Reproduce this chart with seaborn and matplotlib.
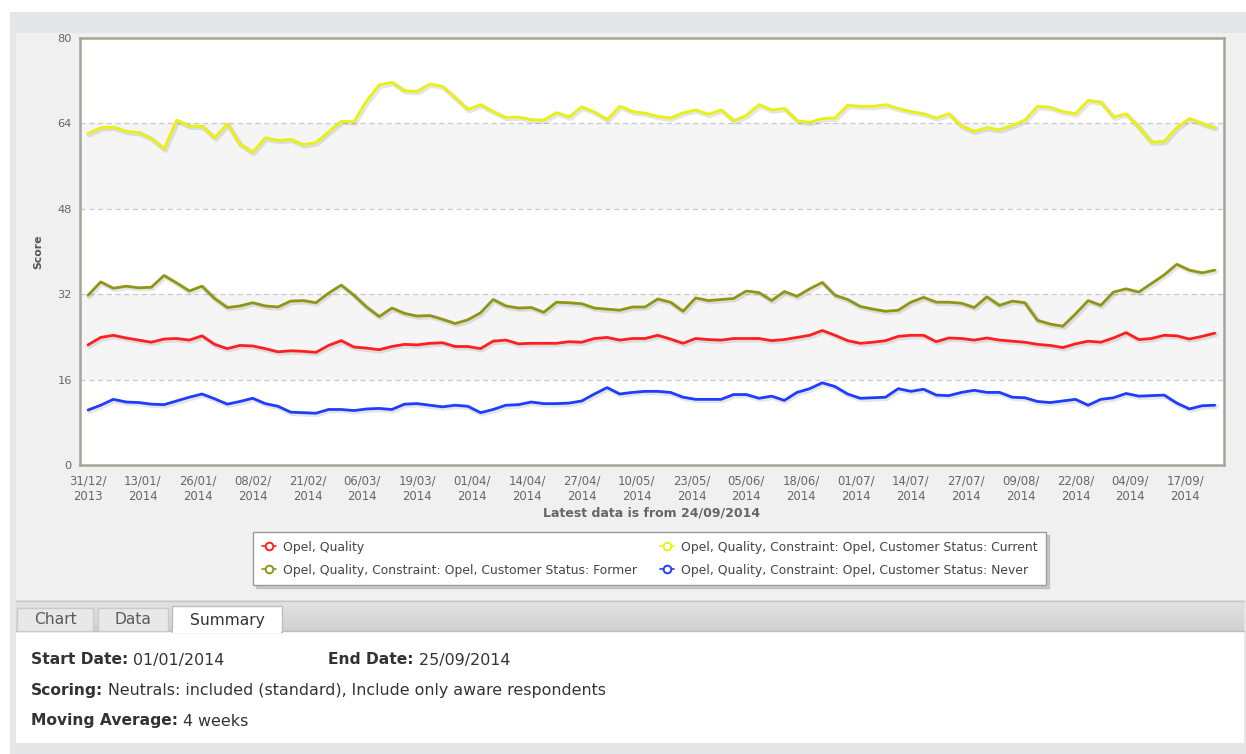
import numpy as np
import pandas as pd
import matplotlib
matplotlib.use("Agg")
import matplotlib.pyplot as plt
import matplotlib.patheffects as pe
from matplotlib.patches import Rectangle
from matplotlib.lines import Line2D
import seaborn as sns

W, H = 1246, 754

# ---------------- data ----------------
series_names = [
    "Opel, Quality",
    "Opel, Quality, Constraint: Opel, Customer Status: Current",
    "Opel, Quality, Constraint: Opel, Customer Status: Former",
    "Opel, Quality, Constraint: Opel, Customer Status: Never",
]
series_colors = ["#ff1f1f", "#e8f20c", "#8f9614", "#1f3cff"]

first_date = "2013-12-31"
step_days = 3

quality = [22.5, 23.9, 24.3, 23.8, 23.4, 23.0, 23.6, 23.7, 23.4, 24.2,
           22.6, 21.8, 22.4, 22.3, 21.8, 21.2, 21.4, 21.3, 21.1, 22.4,
           23.3, 22.1, 21.9, 21.6, 22.2, 22.6, 22.5, 22.8, 22.9, 22.2,
           22.2, 21.8, 23.2, 23.4, 22.7, 22.8, 22.8, 22.8, 23.1, 23.0,
           23.7, 23.9, 23.4, 23.7, 23.7, 24.3, 23.6, 22.8, 23.7, 23.5,
           23.4, 23.7, 23.7, 23.7, 23.3, 23.5, 23.9, 24.3, 25.2, 24.3,
           23.3, 22.8, 23.0, 23.3, 24.1, 24.3, 24.3, 23.1, 23.8, 23.7,
           23.4, 23.8, 23.4, 23.2, 23.0, 22.6, 22.4, 22.0, 22.7, 23.2,
           23.0, 23.8, 24.8, 23.5, 23.7, 24.3, 24.2, 23.6, 24.1, 24.7]

current = [62.1, 63.2, 63.3, 62.5, 62.3, 61.2, 59.2, 64.6, 63.5, 63.5,
           61.3, 63.9, 60.1, 58.6, 61.3, 60.8, 61.0, 60.0, 60.4, 62.4,
           64.4, 64.3, 68.2, 71.2, 71.7, 70.1, 70.0, 71.4, 70.9, 68.8,
           66.6, 67.5, 66.2, 65.1, 65.2, 64.7, 64.6, 66.0, 65.2, 67.1,
           66.1, 64.7, 67.2, 66.2, 65.9, 65.3, 65.0, 66.0, 66.5, 65.7,
           66.5, 64.5, 65.5, 67.5, 66.5, 66.8, 64.5, 64.2, 64.9, 65.0,
           67.4, 67.2, 67.2, 67.5, 66.8, 66.2, 65.8, 65.0, 65.8, 63.5,
           62.5, 63.2, 62.8, 63.6, 64.6, 67.2, 67.0, 66.2, 65.8, 68.3,
           68.0, 65.2, 65.8, 63.3, 60.5, 60.6, 63.2, 64.9, 64.0, 63.2]

former = [31.8, 34.3, 33.1, 33.5, 33.2, 33.3, 35.5, 34.1, 32.6, 33.5,
          31.2, 29.5, 29.8, 30.4, 29.8, 29.6, 30.7, 30.8, 30.4, 32.2,
          33.7, 31.8, 29.6, 27.8, 29.4, 28.4, 27.9, 28.0, 27.3, 26.5,
          27.2, 28.5, 31.0, 29.8, 29.4, 29.5, 28.6, 30.5, 30.4, 30.2,
          29.4, 29.2, 29.0, 29.6, 29.6, 31.1, 30.5, 28.8, 31.3, 30.8,
          31.0, 31.2, 32.6, 32.3, 30.8, 32.5, 31.6, 33.0, 34.2, 31.8,
          31.0, 29.7, 29.2, 28.8, 29.0, 30.5, 31.4, 30.5, 30.5, 30.3,
          29.5, 31.5, 29.9, 30.7, 30.4, 27.1, 26.4, 26.0, 28.3, 30.8,
          29.9, 32.4, 33.0, 32.4, 34.0, 35.6, 37.6, 36.5, 36.0, 36.5]

never = [10.3, 11.2, 12.3, 11.8, 11.7, 11.4, 11.3, 12.0, 12.7, 13.3,
         12.4, 11.4, 11.9, 12.5, 11.5, 11.0, 9.9, 9.8, 9.7, 10.4,
         10.4, 10.2, 10.5, 10.6, 10.4, 11.4, 11.5, 11.2, 10.9, 11.2,
         11.0, 9.8, 10.4, 11.2, 11.3, 11.8, 11.5, 11.5, 11.6, 12.0,
         13.3, 14.5, 13.3, 13.6, 13.8, 13.8, 13.6, 12.7, 12.3, 12.3,
         12.3, 13.2, 13.2, 12.5, 12.9, 12.1, 13.6, 14.3, 15.4, 14.7,
         13.3, 12.5, 12.6, 12.7, 14.3, 13.8, 14.2, 13.1, 13.0, 13.6,
         14.0, 13.6, 13.6, 12.7, 12.6, 11.9, 11.7, 12.0, 12.3, 11.2,
         12.3, 12.6, 13.4, 12.9, 13.0, 13.1, 11.6, 10.5, 11.1, 11.2]

tick_labels = ["31/12/\n2013", "13/01/\n2014", "26/01/\n2014", "08/02/\n2014",
               "21/02/\n2014", "06/03/\n2014", "19/03/\n2014", "01/04/\n2014",
               "14/04/\n2014", "27/04/\n2014", "10/05/\n2014", "23/05/\n2014",
               "05/06/\n2014", "18/06/\n2014", "01/07/\n2014", "14/07/\n2014",
               "27/07/\n2014", "09/08/\n2014", "22/08/\n2014", "04/09/\n2014",
               "17/09/\n2014"]
y_ticks = [0, 16, 32, 48, 64, 80]
band_ranges = [(16, 32), (48, 64)]

# ---------------- figure ----------------
sns.set_theme(style="white")
plt.rcParams['font.family'] = ['DejaVu Sans']

fig = plt.figure(figsize=(W / 100, H / 100), dpi=100)
fig.patch.set_facecolor("white")


def fx(x):
    return x / W


def fy(y):
    return 1 - y / H


def px_rect(x0, y0, x1, y1, **kw):
    r = Rectangle((fx(x0), fy(y1)), (x1 - x0) / W, (y1 - y0) / H,
                  transform=fig.transFigure, **kw)
    fig.add_artist(r)
    return r


# panels
px_rect(10, 12, W, H, facecolor="#e5e6e8", edgecolor="none", zorder=-10)
px_rect(16, 33, W, 600, facecolor="#f0f0f0", edgecolor="none", zorder=-9)
grad_ax = fig.add_axes([fx(16), fy(631), fx(1244) - fx(16), fy(600) - fy(631)], zorder=-8)
grad = np.linspace(0, 1, 50).reshape(-1, 1)
grad_ax.imshow(grad, aspect="auto", cmap=matplotlib.colors.LinearSegmentedColormap.from_list(
    "g", ["#e4e4e4", "#d0d0d0"]), extent=[0, 1, 0, 1], origin="upper")
grad_ax.axis("off")
fig.add_artist(Line2D([fx(16), fx(1244)], [fy(600.5), fy(600.5)], color="#c6c6c6", lw=1,
                      transform=fig.transFigure))
px_rect(16, 631, 1244, 743, facecolor="white", edgecolor="none", zorder=-7)
fig.add_artist(Line2D([fx(16), fx(1244)], [fy(630.5), fy(630.5)], color="#bdbdbd", lw=1,
                      transform=fig.transFigure, zorder=-6))

# tabs
tabs = [("Chart", 17, 93, False), ("Data", 98, 168, False), ("Summary", 172, 282, True)]
for name, x0, x1, active in tabs:
    if active:
        px_rect(x0, 606, x1, 632, facecolor="white", edgecolor="#bdbdbd", lw=1, zorder=2)
        px_rect(x0 + 1, 629, x1 - 1, 633, facecolor="white", edgecolor="none", zorder=3)
    else:
        px_rect(x0, 608, x1, 631, facecolor="#e8e8e8", edgecolor="#cacaca", lw=1, zorder=2)
    fig.text(fx((x0 + x1) / 2), fy(620), name, ha="center", va="center", fontsize=11.2,
             color="#333333" if active else "#5a5a5a", zorder=4)

# ---------------- main chart ----------------
ax = fig.add_axes([fx(80), fy(465), fx(1224) - fx(80), fy(38) - fy(465)])
ax.set_facecolor("white")

for lo, hi in band_ranges:
    ax.axhspan(lo, hi, facecolor="#f5f5f5", edgecolor="none", zorder=0)

dates = pd.date_range(first_date, periods=len(quality), freq=f"{step_days}D")
frames = []
for name, vals in zip(series_names, [quality, current, former, never]):
    frames.append(pd.DataFrame({"date": dates, "score": vals, "series": name}))
df = pd.concat(frames, ignore_index=True)

n_before = len(ax.lines)
sns.lineplot(data=df, x="date", y="score", hue="series", hue_order=series_names,
             palette=dict(zip(series_names, series_colors)), estimator=None,
             linewidth=2.0, legend=False, ax=ax, zorder=3)
for line in ax.lines[n_before:]:
    line.set_path_effects([pe.SimpleLineShadow(offset=(1, -1), shadow_color="black",
                                               alpha=0.10, linewidth=3.6),
                           pe.Normal()])
    line.set_solid_joinstyle("round")
    line.set_solid_capstyle("round")

for y in y_ticks[1:-1]:
    ax.axhline(y, color="#c8c8c8", lw=0.9, ls=(0, (4, 3)), zorder=0.5)

t0 = pd.Timestamp(first_date)
ax.set_xlim(t0 - pd.Timedelta(days=1.9), t0 + pd.Timedelta(days=269.2))
ax.set_ylim(0, 80)

tick_dates = [pd.to_datetime(lbl.replace("\n", ""), format="%d/%m/%Y") for lbl in tick_labels]
ax.set_xticks(tick_dates)
ax.set_xticklabels(tick_labels)
ax.set_yticks(y_ticks)
ax.set_yticklabels([str(v) for v in y_ticks])
ax.tick_params(axis="x", length=0, pad=6.5, labelsize=8.4, labelcolor="#666666")
ax.tick_params(axis="y", length=0, pad=6, labelsize=8.2, labelcolor="#666666")
for t in ax.get_xticklabels():
    t.set_linespacing(1.25)
ax.set_xlabel("")
ax.set_ylabel("Score", fontsize=7.8, fontweight="bold", color="#555555")
ax.yaxis.set_label_coords((43 - 80) / 1144, 0.5)
for sp in ax.spines.values():
    sp.set_color("#a6a597")
    sp.set_linewidth(1.8)
ax.grid(False)

fig.text(fx(652), fy(513), "Latest data is from 24/09/2014", ha="center", va="center",
         fontsize=9.0, fontweight="bold", color="#666666")

# ---------------- legend ----------------
handles = [Line2D([0], [0], color=c, lw=1.2, marker="o", markersize=5.5,
                  markerfacecolor="white", markeredgecolor=c, markeredgewidth=1.4)
           for c in series_colors]
order = [0, 2, 1, 3]
leg = fig.legend([handles[i] for i in order], [series_names[i] for i in order],
                 ncol=2, loc="upper left",
                 bbox_to_anchor=(fx(253), fy(532)),
                 bbox_transform=fig.transFigure, frameon=True, fancybox=False,
                 edgecolor="#9a9a9a", fontsize=8.9, labelcolor="#444444",
                 handlelength=1.15, handletextpad=0.55, columnspacing=1.9,
                 borderpad=0.7, labelspacing=0.8, borderaxespad=0,
                 shadow={"ox": 2, "oy": -2, "color": "#888888", "alpha": 0.35})
leg.get_frame().set_linewidth(1.0)

# ---------------- summary text ----------------
texts = [(31, 660, "Start Date:", "01/01/2014"),
         (328, 660, "End Date:", "25/09/2014"),
         (31, 690, "Scoring:", "Neutrals: included (standard), Include only aware respondents"),
         (31, 721, "Moving Average:", "4 weeks")]
for x, y, b, n in texts:
    tb = fig.text(fx(x), fy(y), b, ha="left", va="center", fontsize=11.2,
                  fontweight="bold", color="#333333")
    plt.annotate(" " + n, xy=(1, 0.5), xycoords=tb, xytext=(0, 0), textcoords="offset points",
                 ha="left", va="center", fontsize=11.4, color="#333333",
                 annotation_clip=False)

fig.savefig("out.png", dpi=100, facecolor=fig.get_facecolor())
